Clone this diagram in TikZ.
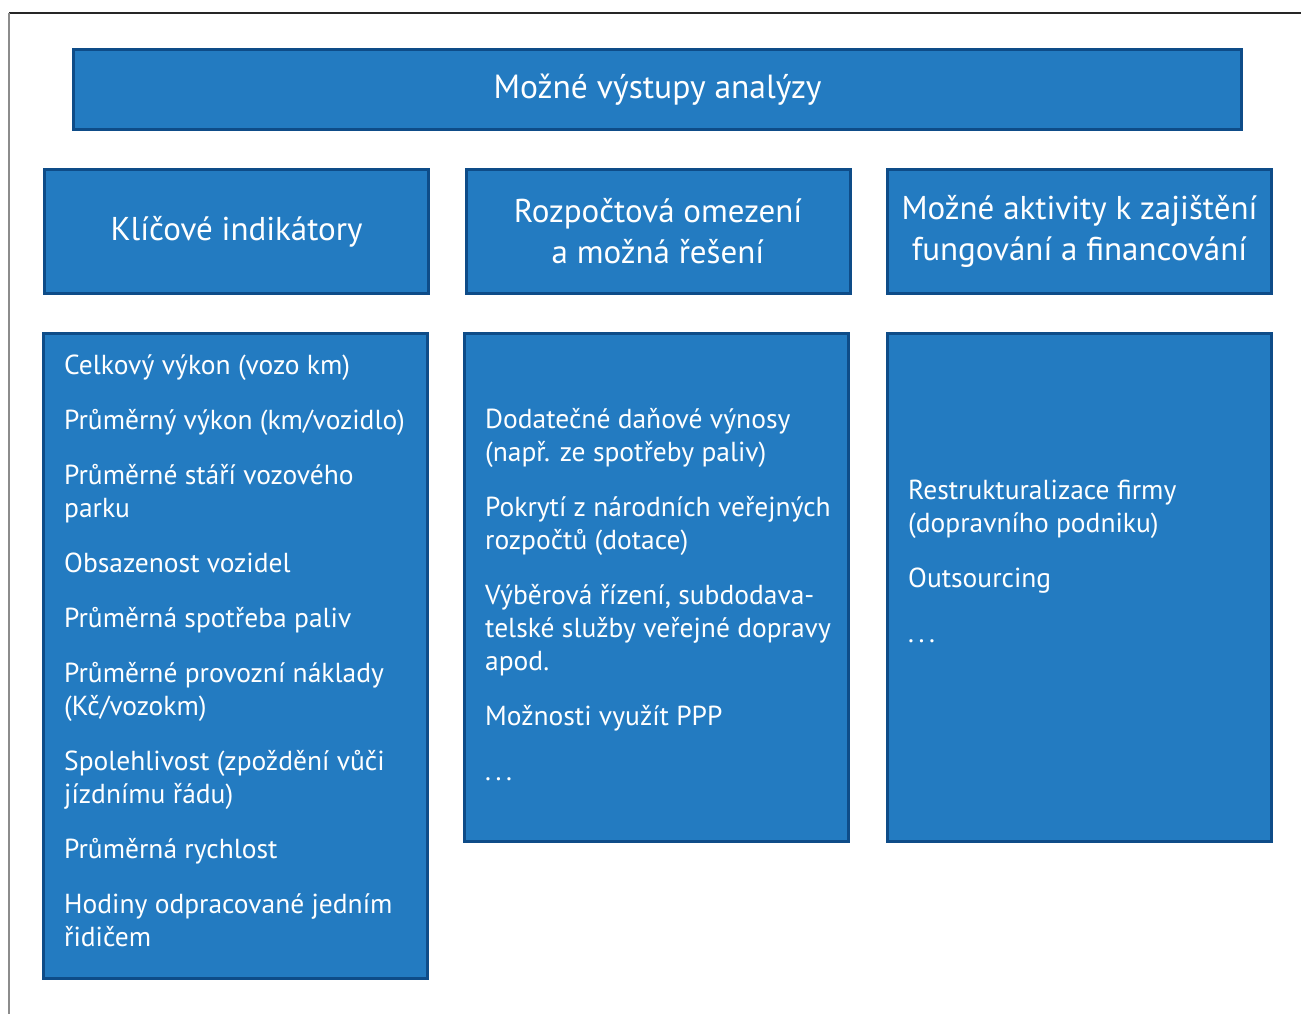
\documentclass[tikz,border=0pt]{standalone}
\usepackage{fontspec}
\setmainfont{PT Sans}
\usetikzlibrary{positioning}
\definecolor{boxblue}{RGB}{35,123,193}
\definecolor{boxedge}{RGB}{14,76,136}
\tikzset{
  bluebox/.style={draw=boxedge, line width=3pt, fill=boxblue, text=white, inner sep=0pt, minimum width=384pt},
  headtext/.style={font=\fontsize{33}{41}\selectfont, align=center},
  itemtext/.style={text=white, font=\fontsize{27.5}{33}\selectfont, anchor=base west, inner sep=0pt}
}
\begin{document}
\begin{tikzpicture}[x=1pt,y=-1pt]
\useasboundingbox (0,0) rectangle (1301,1014);
\draw[line width=1.5pt, black!85] (9,13)--(1301,13);
\draw[line width=1.5pt, black!45] (9,13)--(9,1014);

\node[bluebox, headtext, font=\fontsize{33.5}{41}\selectfont, minimum width=1168pt, minimum height=80pt] (vystupy) at (657.5,89.5) {Možné výstupy analýzy};

\node[bluebox, headtext, minimum height=124pt] (indikhead) at (236.5,231.5) {Klíčové indikátory};
\node[bluebox, headtext, minimum height=124pt] (rozphead) at (658,231.5) {Rozpočtová omezení\\a možná řešení};
\node[bluebox, headtext, minimum height=124pt] (aktivhead) at (1079.5,231.5) {Možné aktivity k zajištění\\fungování a financování};

\node[bluebox, minimum height=645pt] (indikbox) at (235,656) {};
\node[bluebox, minimum height=508pt] (rozpbox) at (656.5,587.5) {};
\node[bluebox, minimum height=508pt] (aktivbox) at (1079.5,587.5) {};

\node[itemtext] (indik) at (64,374) {\parbox[t]{360pt}{\raggedright
Celkový výkon (vozo km)\\[22pt]
Průměrný výkon (km/vozidlo)\\[22pt]
Průměrné stáří vozového\\parku\\[22pt]
Obsazenost vozidel\\[22pt]
Průměrná spotřeba paliv\\[22pt]
Průměrné provozní náklady\\(Kč/vozokm)\\[22pt]
Spolehlivost (zpoždění vůči\\jízdnímu řádu)\\[22pt]
Průměrná rychlost\\[22pt]
Hodiny odpracované jedním\\řidičem}};

\node[itemtext] (rozp) at (485,428) {\parbox[t]{360pt}{\raggedright
Dodatečné daňové výnosy\\(např. ze spotřeby paliv)\\[22pt]
Pokrytí z národních veřejných\\rozpočtů (dotace)\\[22pt]
Výběrová řízení, subdodava-\\telské služby veřejné dopravy\\apod.\\[22pt]
Možnosti využít PPP\\[22pt]
.\,.\,.}};

\node[itemtext] (aktiv) at (908,499) {\parbox[t]{360pt}{\raggedright
Restrukturalizace firmy\\(dopravního podniku)\\[22pt]
Outsourcing\\[22pt]
.\,.\,.}};
\end{tikzpicture}
\end{document}
